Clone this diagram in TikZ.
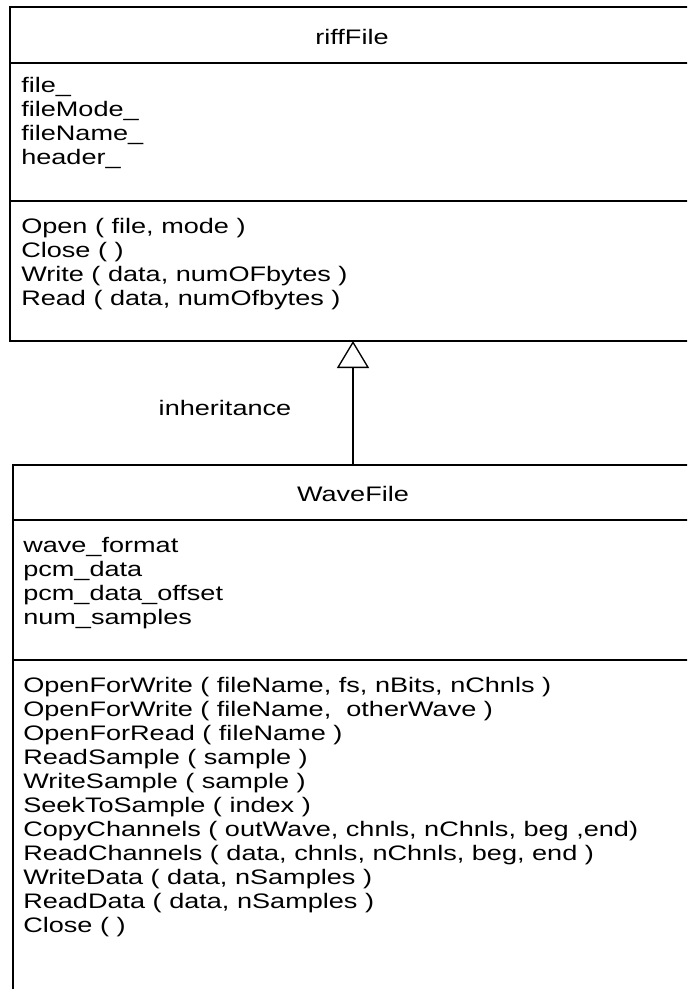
\documentclass[tikz,border=0pt]{standalone}
\usepackage{fontspec}
\newfontfamily\umlfont[FakeStretch=1.29]{Liberation Sans}
\usetikzlibrary{arrows.meta}

\begin{document}
\begin{tikzpicture}[x=0.75pt, y=-0.75pt,
  boxline/.style={line width=1pt, draw=black},
  classbox/.style={boxline, rectangle, inner sep=0pt, outer sep=0pt, anchor=north west},
  umltext/.style={font=\umlfont\fontsize{15.75pt}{18pt}\selectfont, inner sep=0pt, text=black},
  member/.style={umltext, anchor=base west},
  classname/.style={umltext, anchor=base},
  inherits/.style={line width=1pt, -{Triangle[open, length=20.25pt, width=24pt, line width=1pt]}}
]
  % page area
  \clip (0,0) rectangle (687,989);
  \fill[white] (0,0) rectangle (687,989);

  % ---------- class riffFile ----------
  \node[classbox, minimum width=513pt, minimum height=250.5pt] (riff) at (10,7) {};
  \node[classname] (riffname) at (352,44) {riffFile};
  \draw[boxline] (riff.west |- 0,63) coordinate (riffsepA) -- (riff.east |- 0,63);
  \draw[boxline] (riff.west |- 0,201) coordinate (riffsepB) -- (riff.east |- 0,201);
  \foreach \t [count=\i] in {file\_, fileMode\_, fileName\_, header\_}
    \node[member] (riffattr\i) at (21, 92+24*\i-24) {\t};
  \foreach \t [count=\i] in {{Open ( file, mode )}, {Close ( )},
      {Write ( data, numOFbytes )}, {Read ( data, numOfbytes )}}
    \node[member] (riffop\i) at (21, 233+24*\i-24) {\t};

  % ---------- class WaveFile ----------
  \node[classbox, minimum width=510.75pt, minimum height=401.25pt] (wave) at (13,465) {};
  \node[classname] (wavename) at (353,501) {WaveFile};
  \draw[boxline] (wave.west |- 0,520) coordinate (wavesepA) -- (wave.east |- 0,520);
  \draw[boxline] (wave.west |- 0,660) coordinate (wavesepB) -- (wave.east |- 0,660);
  \foreach \t [count=\i] in {wave\_format, pcm\_data, pcm\_data\_offset, num\_samples}
    \node[member] (waveattr\i) at (23, 552+24*\i-24) {\t};
  \foreach \t [count=\i] in {
      {OpenForWrite ( fileName, fs, nBits, nChnls )},
      {OpenForWrite ( fileName, \ otherWave )},
      {OpenForRead ( fileName )},
      {ReadSample ( sample )},
      {WriteSample ( sample )},
      {SeekToSample ( index )},
      {CopyChannels ( outWave, chnls, nChnls, beg ,end)},
      {ReadChannels ( data, chnls, nChnls, beg, end )},
      {WriteData ( data, nSamples )},
      {ReadData ( data, nSamples )},
      {Close ( )}}
    \node[member] (waveop\i) at (23, 692+24*\i-24) {\t};

  % ---------- generalisation ----------
  \coordinate (wavetop) at (353,465);
  \draw[inherits] (wavetop) -- (wavetop |- riff.south);
  \node[classname] (inhlabel) at (225,415) {inheritance};
\end{tikzpicture}
\end{document}
